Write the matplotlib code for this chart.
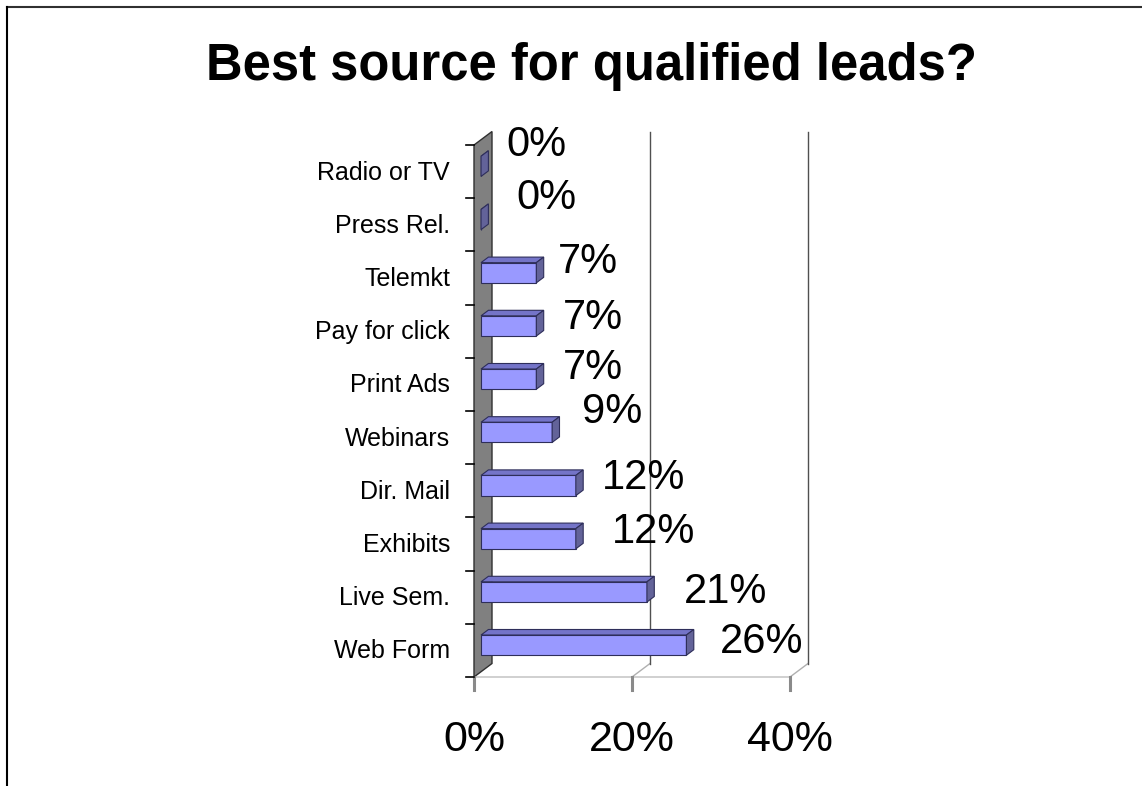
import matplotlib
matplotlib.use('Agg')
import matplotlib.pyplot as plt
from matplotlib.patches import Polygon
from matplotlib.lines import Line2D

plt.rcParams['font.family'] = ['Liberation Sans', 'DejaVu Sans']

# survey answers, listed top to bottom
categories = ['Radio or TV', 'Press Rel.', 'Telemkt', 'Pay for click', 'Print Ads',
              'Webinars', 'Dir. Mail', 'Exhibits', 'Live Sem.', 'Web Form']
values = [0, 0, 7, 7, 7, 9, 12, 12, 21, 26]
xticks = [0, 20, 40]
xticklabels = ['0%', '20%', '40%']
title = 'Best source for qualified leads?'

# label nudges (pixels) so the value text sits like the old Excel layout
label_dx = [18, 28, 14, 19, 19, 23, 19, 29, 30, 26]
label_dy = [27, 27, 16, 13, 16, 26, 13, 12, 5, 8]

W, H = 1142, 786
fig = plt.figure(figsize=(W / 100, H / 100), dpi=100)
fig.patch.set_facecolor('white')

# plot area of the front plane, in pixels
px_left, px_right = 474, 790
px_bottom, px_top = 677, 145
ax = fig.add_axes([px_left / W, (H - px_bottom) / H,
                   (px_right - px_left) / W, (px_bottom - px_top) / H])
ax.set_xlim(0, 40)
ax.set_ylim(0, len(categories))
ax.axis('off')

xs = (px_right - px_left) / 40.0          # px per percent
ys = (px_bottom - px_top) / len(categories)  # px per category
DX = 18 / xs      # depth offset in data units
DY = 13.5 / ys


def pt(x, y, d):
    return (x + d * DX, y + d * DY)


n = len(categories)

# left wall
wall = Polygon([pt(0, 0, 0), pt(0, 0, 1), pt(0, n, 1), pt(0, n, 0)],
               closed=True, facecolor='#808080', edgecolor='#303030',
               lw=1, clip_on=False, zorder=1)
ax.add_patch(wall)

# floor front edge and gridlines on the back wall
ax.plot([0, 40], [0, 0], color='#c8c8c8', lw=1.2, clip_on=False, zorder=0)
for g in xticks[1:]:
    ax.plot(*zip(pt(g, 0, 0), pt(g, 0, 1)), color='#b0b0b0', lw=1,
            clip_on=False, zorder=0)
    ax.plot(*zip(pt(g, 0, 1), pt(g, n, 1)), color='#505050', lw=1,
            clip_on=False, zorder=0)

# axis ticks
for g, lab in zip(xticks, xticklabels):
    ax.plot([g, g], [0, -13 / ys], color='#8a8a8a', lw=2.2,
            clip_on=False, zorder=2)
    ax.text(g, -63 / ys, lab, ha='center', va='center', fontsize=31)
for k in range(n + 1):
    ax.plot([-8 / xs, 0], [k, k], color='black', lw=1.2, clip_on=False)

F0, F1 = 0.39, 0.8
half = 0.19
for k, (cat, v) in enumerate(zip(categories, values)):
    yc = n - k - 0.5
    lo, hi = yc - half, yc + half
    front = [pt(0, lo, F0), pt(v, lo, F0), pt(v, hi, F0), pt(0, hi, F0)]
    top = [pt(0, hi, F0), pt(v, hi, F0), pt(v, hi, F1), pt(0, hi, F1)]
    side = [pt(v, lo, F0), pt(v, lo, F1), pt(v, hi, F1), pt(v, hi, F0)]
    for poly, fc in ((top, '#7474c8'), (front, '#9999ff'), (side, '#636399')):
        ax.add_patch(Polygon(poly, closed=True, facecolor=fc,
                             edgecolor='#2e2e5a', lw=0.8, clip_on=False,
                             zorder=3))

    ax.text(-24 / xs, yc - 0.02, cat, ha='right', va='center', fontsize=18)
    ax.annotate(f'{v}%', xy=(v + F1 * DX, yc),
                xytext=(label_dx[k], label_dy[k]), textcoords='offset pixels',
                ha='left', va='center', fontsize=30, zorder=4)

fig.text(591 / W, 1 - 80 / H, title, ha='center', va='baseline',
         fontsize=36.5, fontweight='bold')

# slide frame
fig.add_artist(Line2D([7 / W, 1], [1 - 7 / H, 1 - 7 / H], color='#303030',
                      lw=1.5, transform=fig.transFigure))
fig.add_artist(Line2D([7 / W, 7 / W], [0, 1 - 7 / H], color='black',
                      lw=1.5, transform=fig.transFigure))

fig.savefig('out.png', dpi=100)
